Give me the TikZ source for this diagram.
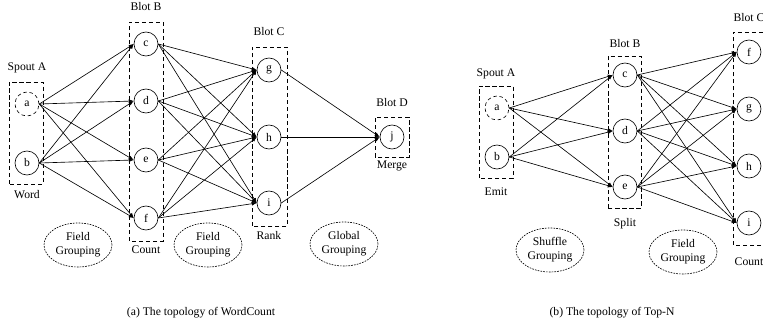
\documentclass[tikz,border=0pt]{standalone}
\usepackage{fontspec}
\setmainfont{Liberation Serif}
\usetikzlibrary{arrows.meta,shapes.geometric}

\tikzset{
	vertex/.style={draw,circle,minimum size=0.6cm,inner sep=0pt},
	spout/.style={vertex,dash pattern=on 2.5pt off 2pt},
	boltbox/.style={dash pattern=on 3pt off 2pt},
	grouping/.style={draw,ellipse,dash pattern=on 1.2pt off 0.8pt,minimum width=1.7cm,minimum height=1.1cm,inner sep=0pt,align=center},
	arr/.style={-{Latex[length=3.5pt,width=2.8pt]}}
}

\begin{document}
\begin{tikzpicture}[font=\fontsize{8.3}{10}\selectfont, line width=0.45pt]
		\useasboundingbox (0,0) rectangle (19.075,8.2);
		\clip (0,0) rectangle (19.075,8.2);
		% (a) WordCount
		\node[spout] (a1) at (0.675,5.6) {a};
		\node[vertex] (b1) at (0.675,4.125) {b};
		\node[vertex] (c1) at (3.65,7.1) {c};
		\node[vertex] (d1) at (3.65,5.675) {d};
		\node[vertex] (e1) at (3.65,4.2) {e};
		\node[vertex] (f1) at (3.65,2.75) {f};
		\node[vertex] (g1) at (6.725,6.45) {g};
		\node[vertex] (h1) at (6.725,4.775) {h};
		\node[vertex] (i1) at (6.725,3.125) {i};
		\node[vertex] (j1) at (9.8,4.775) {j};
		\draw[boltbox] (0.225,3.6) rectangle (1.075,6.15);
		\draw[boltbox] (3.225,2.175) rectangle (4.075,7.65);
		\draw[boltbox] (6.3,2.55) rectangle (7.175,7.025);
		\draw[boltbox] (9.375,4.275) rectangle (10.225,5.275);
		\node (spoutA1) at (0.675,6.5) {Spout A};
		\node (word) at (0.675,3.325) {Word};
		\node (boltB1) at (3.65,8.025) {Blot B};
		\node (count1) at (3.65,1.95) {Count};
		\node (boltC1) at (6.725,7.4) {Blot C};
		\node (rank) at (6.725,2.3) {Rank};
		\node (boltD1) at (9.8,5.625) {Blot D};
		\node (merge) at (9.8,4.05) {Merge};
		\node[grouping] (fieldA) at (1.95,2.075) {Field\\Grouping};
		\node[grouping] (fieldB) at (5.2,2.075) {Field\\Grouping};
		\node[grouping] (global) at (8.6,2.1) {Global\\Grouping};
		\path (a1.east) edge[arr] (c1.west) edge[arr] (d1.west) edge[arr] (e1.west) edge[arr] (f1.west);
		\path (b1.east) edge[arr] (c1.west) edge[arr] (d1.west) edge[arr] (e1.west) edge[arr] (f1.west);
		\path (c1.east) edge[arr] (g1.west) edge[arr] (h1.west) edge[arr] (i1.west);
		\path (d1.east) edge[arr] (g1.west) edge[arr] (h1.west) edge[arr] (i1.west);
		\path (e1.east) edge[arr] (g1.west) edge[arr] (h1.west) edge[arr] (i1.west);
		\path (f1.east) edge[arr] (g1.west) edge[arr] (h1.west) edge[arr] (i1.west);
		\path (g1.east) edge[arr] (j1.west);
		\path (h1.east) edge[arr] (j1.west);
		\path (i1.east) edge[arr] (j1.west);
		\node (capA) at (5.025,0.375) {(a) The topology of WordCount};
		% (b) Top-N
		\node[spout] (a2) at (12.425,5.5) {a};
		\node[vertex] (b2) at (12.425,4.275) {b};
		\node[vertex] (c2) at (15.625,6.325) {c};
		\node[vertex] (d2) at (15.625,4.925) {d};
		\node[vertex] (e2) at (15.625,3.525) {e};
		\node[vertex] (f2) at (18.725,6.9) {f};
		\node[vertex] (g2) at (18.725,5.475) {g};
		\node[vertex] (h2) at (18.725,4.05) {h};
		\node[vertex] (i2) at (18.725,2.625) {i};
		\draw[boltbox] (11.975,3.75) rectangle (12.825,6.05);
		\draw[boltbox] (15.2,3.0) rectangle (16.025,6.8);
		\draw[boltbox] (18.325,2.075) rectangle (19.15,7.4);
		\node (spoutA2) at (12.4,6.35) {Spout A};
		\node (emit) at (12.4,3.4) {Emit};
		\node (boltB2) at (15.625,7.1) {Blot B};
		\node (split) at (15.625,2.6) {Split};
		\node (boltC2) at (18.725,7.75) {Blot C};
		\node (count2) at (18.725,1.65) {Count};
		\node[grouping] (shuffle) at (13.75,1.95) {Shuffle\\Grouping};
		\node[grouping] (fieldC) at (17.075,1.9) {Field\\Grouping};
		\path (a2.east) edge[arr] (c2.west) edge[arr] (d2.west) edge[arr] (e2.west);
		\path (b2.east) edge[arr] (c2.west) edge[arr] (d2.west) edge[arr] (e2.west);
		\path (c2.east) edge[arr] (f2.west) edge[arr] (g2.west) edge[arr] (h2.west) edge[arr] (i2.west);
		\path (d2.east) edge[arr] (f2.west) edge[arr] (g2.west) edge[arr] (h2.west) edge[arr] (i2.west);
		\path (e2.east) edge[arr] (f2.west) edge[arr] (g2.west) edge[arr] (h2.west) edge[arr] (i2.west);
		\node (capB) at (15.3,0.375) {(b) The topology of Top-N};
	\end{tikzpicture}
\end{document}
